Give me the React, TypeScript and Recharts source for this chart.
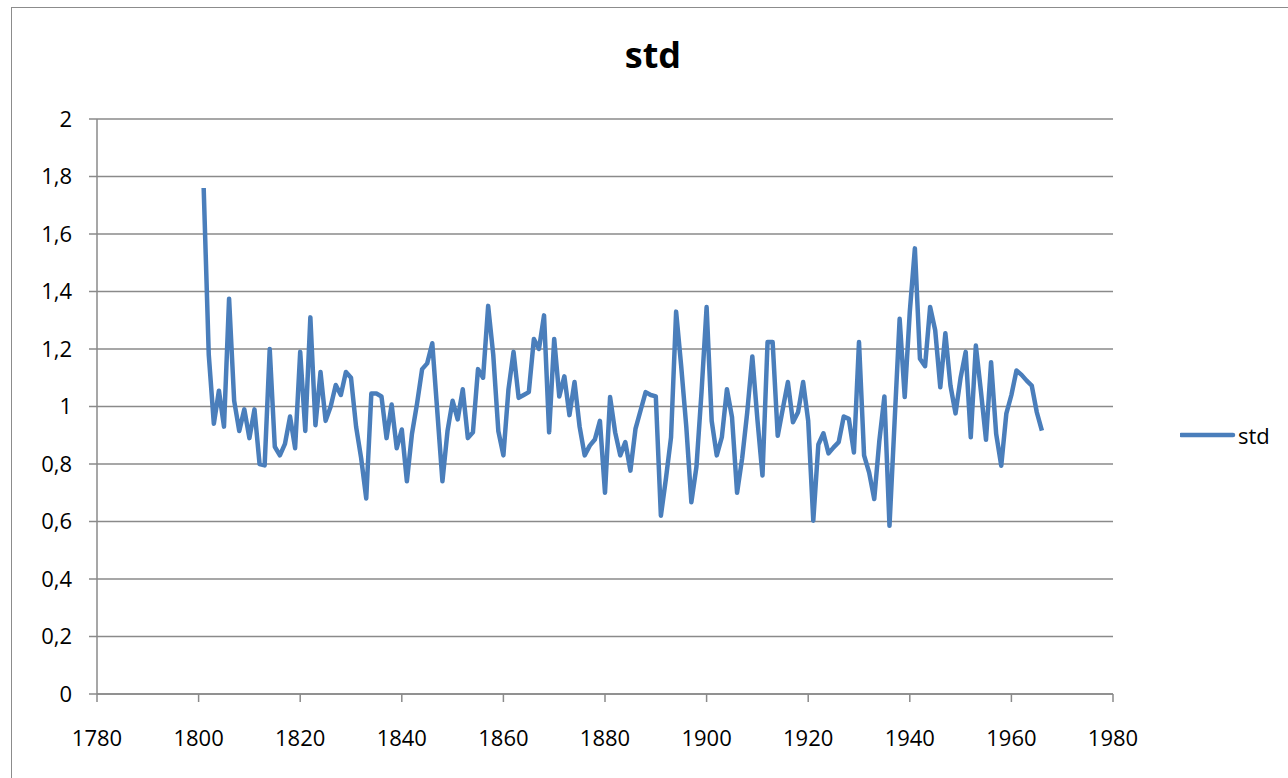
import React from "react";
import { LineChart, Line, XAxis, YAxis, CartesianGrid, Legend } from "recharts";

const FIRST_YEAR = 1801;
const stdValues = [
  1.76, 1.18, 0.94, 1.055, 0.93, 1.375, 1.02, 0.915, 0.99, 0.89,
  0.99, 0.8, 0.795, 1.2, 0.86, 0.83, 0.87, 0.965, 0.855, 1.19,
  0.915, 1.31, 0.935, 1.12, 0.95, 1.0, 1.075, 1.04, 1.12, 1.1,
  0.93, 0.82, 0.68, 1.045, 1.045, 1.035, 0.89, 1.007, 0.855, 0.92,
  0.74, 0.905, 1.01, 1.13, 1.15, 1.22, 0.98, 0.74, 0.915, 1.02,
  0.955, 1.06, 0.89, 0.91, 1.13, 1.1, 1.35, 1.18, 0.915, 0.83,
  1.06, 1.19, 1.03, 1.04, 1.05, 1.235, 1.2, 1.317, 0.91, 1.235,
  1.035, 1.105, 0.97, 1.085, 0.93, 0.83, 0.864, 0.885, 0.95, 0.7,
  1.033, 0.91, 0.83, 0.876, 0.777, 0.922, 0.986, 1.05, 1.04, 1.035,
  0.62, 0.75, 0.893, 1.33, 1.14, 0.93, 0.667, 0.79, 1.05, 1.346,
  0.95, 0.83, 0.893, 1.06, 0.963, 0.7, 0.82, 0.98, 1.174, 0.955,
  0.76, 1.224, 1.224, 0.898, 0.992, 1.085, 0.945, 0.98, 1.085, 0.95,
  0.603, 0.868, 0.907, 0.837, 0.858, 0.876, 0.965, 0.957, 0.84, 1.224,
  0.83, 0.77, 0.678, 0.88, 1.035, 0.585, 0.945, 1.305, 1.033, 1.33,
  1.55, 1.166, 1.14, 1.346, 1.265, 1.067, 1.255, 1.073, 0.976, 1.1,
  1.19, 0.893, 1.212, 1.053, 0.884, 1.154, 0.905, 0.794, 0.975, 1.04,
  1.125, 1.11, 1.09, 1.073, 0.98, 0.916,
];
const xTicks = [1780, 1800, 1820, 1840, 1860, 1880, 1900, 1920, 1940, 1960, 1980];
const yTicks = [0, 0.2, 0.4, 0.6, 0.8, 1, 1.2, 1.4, 1.6, 1.8, 2];
const seriesName = "std";
const chartTitle = "std";

const data = stdValues.map((v, i) => ({ year: FIRST_YEAR + i, std: v }));

const FONT = "'Open Sans', 'Liberation Sans', sans-serif";
const GRID = "#8a8a8a";
const LINE = "#4a7ebb";

const fmtY = (v: number) => String(Math.round(v * 10) / 10).replace(".", ",");

const LegendContent = (props: any) => {
  const items = props.payload || [];
  return (
    <div style={{ fontFamily: FONT }}>
      {items.map((it: any) => (
        <div key={it.value} style={{ display: "flex", alignItems: "center", height: 30 }}>
          <svg width={56} height={10} style={{ display: "block" }}>
            <line x1={1} y1={5} x2={53} y2={5} stroke={LINE} strokeWidth={4.5} strokeLinecap="round" />
          </svg>
          <span style={{ fontSize: 22, color: "#000", marginLeft: 2 }}>{it.value}</span>
        </div>
      ))}
    </div>
  );
};

export default function App() {
  return (
    <div
      style={{
        position: "absolute",
        left: 0,
        top: 0,
        width: 1288,
        height: 778,
        overflow: "hidden",
        background: "#fff",
        fontFamily: FONT,
      }}
    >
      <div
        style={{
          position: "absolute",
          left: 11,
          top: 7,
          width: 1400,
          height: 900,
          border: "1.5px solid #8c8c8c",
          boxSizing: "border-box",
        }}
      />
      <div
        style={{
          position: "absolute",
          left: 553,
          width: 200,
          top: 30,
          textAlign: "center",
          fontWeight: 700,
          fontSize: 36,
          color: "#000",
        }}
      >
        {chartTitle}
      </div>
      <div style={{ position: "absolute", left: 0, top: 0 }}>
        <LineChart
          width={1288}
          height={778}
          data={data}
          margin={{ top: 119, right: 175, bottom: 24, left: 17 }}
        >
          <CartesianGrid horizontal vertical={false} stroke={GRID} strokeWidth={1.5} />
          <XAxis
            dataKey="year"
            type="number"
            domain={[1780, 1980]}
            ticks={xTicks}
            interval={0}
            height={60}
            tickSize={8}
            tickMargin={28}
            axisLine={{ stroke: GRID, strokeWidth: 1.5 }}
            tickLine={{ stroke: GRID, strokeWidth: 1.5 }}
            tick={{ fill: "#000", fontSize: 22, fontFamily: FONT }}
          />
          <YAxis
            type="number"
            domain={[0, 2]}
            ticks={yTicks}
            interval={0}
            width={80}
            tickSize={8}
            tickMargin={17}
            tickFormatter={fmtY}
            axisLine={{ stroke: GRID, strokeWidth: 1.5 }}
            tickLine={{ stroke: GRID, strokeWidth: 1.5 }}
            tick={{ fill: "#000", fontSize: 22, fontFamily: FONT }}
          />
          <Legend
            layout="horizontal"
            align="center"
            verticalAlign="middle"
            content={<LegendContent />}
            wrapperStyle={{ left: 1180, top: 420, width: 100 }}
          />
          <Line
            type="linear"
            dataKey="std"
            name={seriesName}
            stroke={LINE}
            strokeWidth={4.5}
            strokeLinejoin="round"
            dot={false}
            activeDot={false}
            isAnimationActive={false}
          />
        </LineChart>
      </div>
    </div>
  );
}
